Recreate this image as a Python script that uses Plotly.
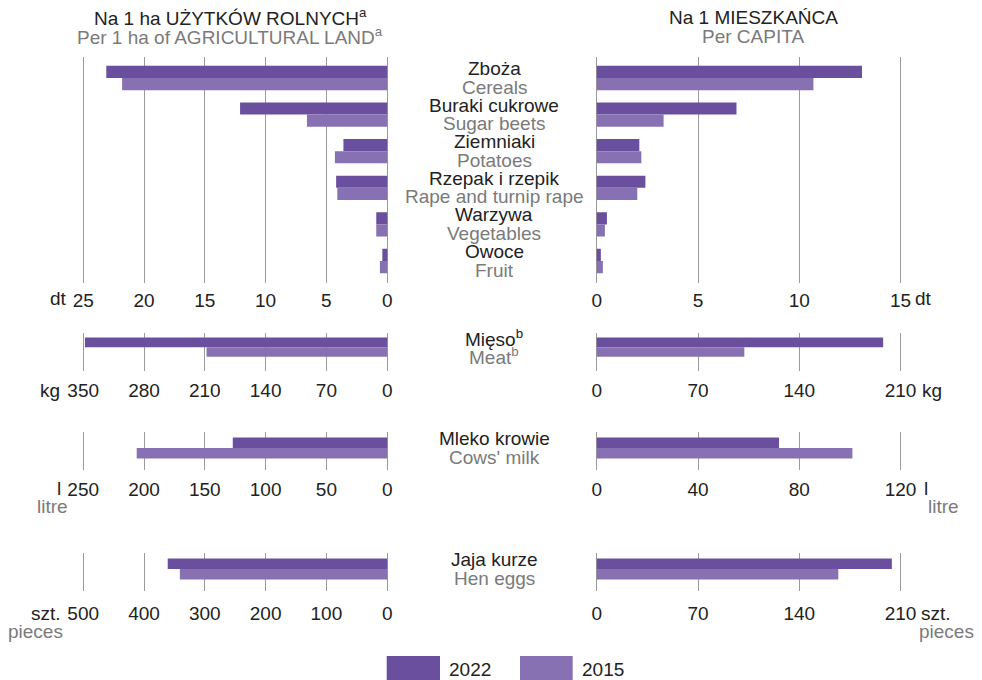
import plotly.graph_objects as go

W, H = 982, 680

# ---------------- data ----------------
years = ["2022", "2015"]
colors = {"2022": "#6a4f9e", "2015": "#8871b2"}

crops_pl = ["Zboża", "Buraki cukrowe", "Ziemniaki", "Rzepak i rzepik", "Warzywa", "Owoce"]
crops_en = ["Cereals", "Sugar beets", "Potatoes", "Rape and turnip rape", "Vegetables", "Fruit"]
crops_ha_2022 = [23.1, 12.1, 3.6, 4.2, 0.9, 0.4]
crops_ha_2015 = [21.8, 6.6, 4.3, 4.1, 0.9, 0.6]
crops_cap_2022 = [13.1, 6.9, 2.1, 2.4, 0.5, 0.2]
crops_cap_2015 = [10.7, 3.3, 2.2, 2.0, 0.4, 0.3]

meat_pl = ["Mięso<sup>b</sup>"]
meat_en = ["Meat<sup>b</sup>"]
meat_ha_2022 = [348]
meat_ha_2015 = [208]
meat_cap_2022 = [198]
meat_cap_2015 = [102]

milk_pl = ["Mleko krowie"]
milk_en = ["Cows' milk"]
milk_ha_2022 = [127]
milk_ha_2015 = [206]
milk_cap_2022 = [72]
milk_cap_2015 = [101]

eggs_pl = ["Jaja kurze"]
eggs_en = ["Hen eggs"]
eggs_ha_2022 = [361]
eggs_ha_2015 = [341]
eggs_cap_2022 = [204]
eggs_cap_2015 = [167]

ticks_crops_ha = [25, 20, 15, 10, 5, 0]
ticks_crops_cap = [0, 5, 10, 15]
ticks_meat_ha = [350, 280, 210, 140, 70, 0]
ticks_meat_cap = [0, 70, 140, 210]
ticks_milk_ha = [250, 200, 150, 100, 50, 0]
ticks_milk_cap = [0, 40, 80, 120]
ticks_eggs_ha = [500, 400, 300, 200, 100, 0]
ticks_eggs_cap = [0, 70, 140, 210]

# ---------------- layout helpers ----------------
def fx(p):
    return p / W

def fy(p):
    return 1 - p / H

# pixel positions of the axis ends (max / zero); a small padding keeps edge grid lines drawn
L_MAX, L_ZERO = 83.2, 387.2
R_ZERO, R_MAX = 596.8, 900.5
PAD = 3.0
LEFT_DOM = [fx(L_MAX - PAD), fx(L_ZERO + PAD)]
RIGHT_DOM = [fx(R_ZERO - PAD), fx(R_MAX + PAD)]
EL = PAD / (L_ZERO - L_MAX)
ER = PAD / (R_MAX - R_ZERO)

rows = [
    dict(pl=crops_pl, en=crops_en, ha=(crops_ha_2022, crops_ha_2015), cap=(crops_cap_2022, crops_cap_2015),
         tha=ticks_crops_ha, tcap=ticks_crops_cap, top=56.5, bot=283, lab=298.5, stand=4,
         ul="dt", ur="dt", sub=None, ulx=69, urx=913),
    dict(pl=meat_pl, en=meat_en, ha=(meat_ha_2022, meat_ha_2015), cap=(meat_cap_2022, meat_cap_2015),
         tha=ticks_meat_ha, tcap=ticks_meat_cap, top=332.7, bot=370.7, lab=390, stand=6,
         ul="kg", ur="kg", sub=None, ulx=62, urx=920),
    dict(pl=milk_pl, en=milk_en, ha=(milk_ha_2022, milk_ha_2015), cap=(milk_cap_2022, milk_cap_2015),
         tha=ticks_milk_ha, tcap=ticks_milk_cap, top=432, bot=470, lab=488.3, stand=6,
         ul="l", ur="l", sub="litre", ulx=63, urx=922, subl=35, subr=961),
    dict(pl=eggs_pl, en=eggs_en, ha=(eggs_ha_2022, eggs_ha_2015), cap=(eggs_cap_2022, eggs_cap_2015),
         tha=ticks_eggs_ha, tcap=ticks_eggs_cap, top=553.3, bot=591, lab=613, stand=9,
         ul="szt.", ur="szt.", sub="pieces", ulx=63, urx=919, subl=6, subr=976),
]

FONT = "Liberation Sans, Arial, sans-serif"
FS = 19
DARK = "#222222"
GRAY = "#7a7a7a"
GRID = "#9a9a9a"

fig = go.Figure()
layout = dict(
    width=W, height=H, autosize=False,
    margin=dict(l=0, r=0, t=0, b=0, pad=0, autoexpand=False),
    paper_bgcolor="white", plot_bgcolor="white",
    barmode="group", bargap=0.337, bargroupgap=0,
    showlegend=False,
    font=dict(family=FONT, size=FS, color=DARK),
)
annotations = []
shapes = []

for i, r in enumerate(rows):
    yn = i + 1
    ykey = "yaxis" if yn == 1 else f"yaxis{yn}"
    yref = "y" if yn == 1 else f"y{yn}"
    xl_n = 2 * i + 1
    xr_n = 2 * i + 2
    xl_key = "xaxis" if xl_n == 1 else f"xaxis{xl_n}"
    xl_ref = "x" if xl_n == 1 else f"x{xl_n}"
    xr_key = f"xaxis{xr_n}"
    xr_ref = f"x{xr_n}"

    layout[ykey] = dict(domain=[fy(r["bot"]), fy(r["top"])], type="category",
                        categoryorder="array", categoryarray=r["pl"],
                        autorange="reversed", showticklabels=False, showgrid=False,
                        zeroline=False, showline=False, anchor=xl_ref, fixedrange=True)
    common = dict(showgrid=True, gridcolor=GRID, gridwidth=1, zeroline=True, zerolinecolor=GRID,
                  zerolinewidth=1, showline=False, ticks="", anchor=yref, automargin=False,
                  ticklabelstandoff=r["stand"],
                  tickfont=dict(family=FONT, size=FS, color=DARK), fixedrange=True)
    mh = max(r["tha"])
    mc = max(r["tcap"])
    layout[xl_key] = dict(domain=LEFT_DOM, range=[mh * (1 + EL), -mh * EL], tickmode="array",
                          tickvals=r["tha"], ticktext=[str(v) for v in r["tha"]], **common)
    layout[xr_key] = dict(domain=RIGHT_DOM, range=[-mc * ER, mc * (1 + ER)], tickmode="array",
                          tickvals=r["tcap"], ticktext=[str(v) for v in r["tcap"]], **common)

    for yi, yr in enumerate(years):
        fig.add_trace(go.Bar(y=r["pl"], x=r["ha"][yi], orientation="h", name=yr,
                             marker=dict(color=colors[yr], line=dict(width=0)),
                             xaxis=xl_ref, yaxis=yref, hoverinfo="x+name"))
        fig.add_trace(go.Bar(y=r["pl"], x=r["cap"][yi], orientation="h", name=yr,
                             marker=dict(color=colors[yr], line=dict(width=0)),
                             xaxis=xr_ref, yaxis=yref, hoverinfo="x+name"))

    # category labels in the middle
    for cpl, cen in zip(r["pl"], r["en"]):
        annotations.append(dict(x=fx(494), xref="paper", y=cpl, yref=yref, text=cpl,
                                showarrow=False, yshift=9.5, xanchor="center", yanchor="middle",
                                font=dict(size=FS, color=DARK)))
        annotations.append(dict(x=fx(494), xref="paper", y=cpl, yref=yref, text=cen,
                                showarrow=False, yshift=-9, xanchor="center", yanchor="middle",
                                font=dict(size=FS, color=GRAY)))

    # unit labels
    ty = r["lab"]
    annotations.append(dict(x=fx(r["ulx"]), xref="paper", y=fy(ty), yref="paper", text=r["ul"],
                            showarrow=False, xanchor="right", yanchor="middle",
                            font=dict(size=FS, color=DARK)))
    annotations.append(dict(x=fx(r["urx"]), xref="paper", y=fy(ty), yref="paper", text=r["ur"],
                            showarrow=False, xanchor="left", yanchor="middle",
                            font=dict(size=FS, color=DARK)))
    if r["sub"]:
        annotations.append(dict(x=fx(r["subl"]), xref="paper", y=fy(ty + 18), yref="paper", text=r["sub"],
                                showarrow=False, xanchor="left", yanchor="middle",
                                font=dict(size=FS, color=GRAY)))
        annotations.append(dict(x=fx(r["subr"]), xref="paper", y=fy(ty + 18), yref="paper", text=r["sub"],
                                showarrow=False, xanchor="right", yanchor="middle",
                                font=dict(size=FS, color=GRAY)))

# titles
annotations += [
    dict(x=fx(230), y=fy(17), xref="paper", yref="paper", text="Na 1 ha UŻYTKÓW ROLNYCH<sup>a</sup>",
         showarrow=False, xanchor="center", yanchor="middle", font=dict(size=FS, color=DARK)),
    dict(x=fx(230), y=fy(36), xref="paper", yref="paper", text="Per 1 ha of AGRICULTURAL LAND<sup>a</sup>",
         showarrow=False, xanchor="center", yanchor="middle", font=dict(size=FS, color=GRAY)),
    dict(x=fx(753), y=fy(17), xref="paper", yref="paper", text="Na 1 MIESZKAŃCA",
         showarrow=False, xanchor="center", yanchor="middle", font=dict(size=FS, color=DARK)),
    dict(x=fx(753), y=fy(36), xref="paper", yref="paper", text="Per CAPITA",
         showarrow=False, xanchor="center", yanchor="middle", font=dict(size=FS, color=GRAY)),
]

# legend
legend_x = {"2022": (386.7, 440, 447), "2015": (520, 572.7, 580)}
for yr in years:
    x0, x1, tx = legend_x[yr]
    shapes.append(dict(type="rect", xref="paper", yref="paper", x0=fx(x0), x1=fx(x1),
                       y0=fy(680), y1=fy(656), fillcolor=colors[yr], line=dict(width=0)))
    annotations.append(dict(x=fx(tx), y=fy(669), xref="paper", yref="paper", text=yr,
                            showarrow=False, xanchor="left", yanchor="middle",
                            font=dict(size=FS, color=DARK)))

layout["annotations"] = annotations
layout["shapes"] = shapes
fig.update_layout(**layout)
fig.write_html("out.html", config={"displayModeBar": False},
               post_script="document.body.style.margin='0';document.body.style.overflow='hidden';")
